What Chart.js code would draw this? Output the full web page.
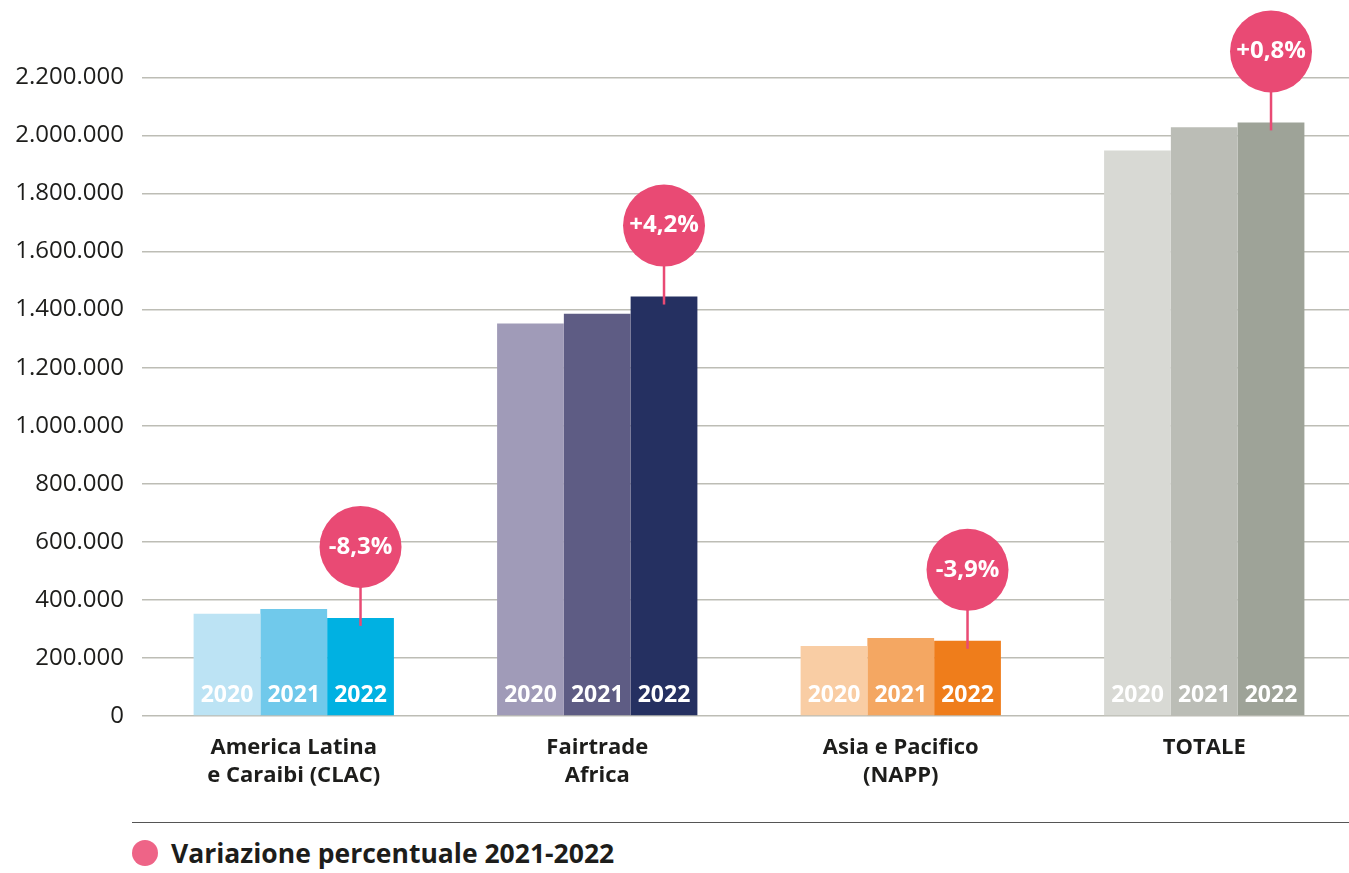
<!DOCTYPE html>
<html>
<head>
<meta charset="utf-8">
<script src="https://cdn.jsdelivr.net/npm/chart.js@4"></script>
<style>
  html, body { margin: 0; padding: 0; background: #fff; overflow: hidden; }
  #wrap { position: relative; width: 1349px; height: 873px; }
  #legendLine { position: absolute; left: 132px; top: 822px; width: 1230px; height: 0; border-top: 1.5px solid #555; }
  #legend { position: absolute; left: 132px; top: 838px; height: 30px; display: flex; align-items: center;
            font-family: "Open Sans", sans-serif; font-weight: 700; font-size: 26.5px; color: #1d1d1b; }
  #legend .dot { width: 26px; height: 26px; border-radius: 50%; background: #ee6487; margin-right: 13px; }
</style>
</head>
<body>
<div id="wrap">
  <canvas id="chart" width="1356" height="807"></canvas>
  <div id="legendLine"></div>
  <div id="legend"><span class="dot"></span>Variazione percentuale 2021-2022</div>
</div>
<script>
/* data */
const categories = [['America Latina', 'e Caraibi (CLAC)'], ['Fairtrade', 'Africa'], ['Asia e Pacifico', '(NAPP)'], ['TOTALE']];
const years = ['2020', '2021', '2022'];
const values2020 = [352000, 1352000, 241000, 1948000];
const values2021 = [369000, 1386000, 269000, 2028000];
const values2022 = [338000, 1445000, 259000, 2045000];
const changes = ['-8,3%', '+4,2%', '-3,9%', '+0,8%'];
const yTicks = [0, 200000, 400000, 600000, 800000, 1000000, 1200000, 1400000, 1600000, 1800000, 2000000, 2200000];

/* colours: one per region, light -> dark by year */
const colors2020 = ['#bce3f4', '#a09bb8', '#f9cda4', '#d8d9d4'];
const colors2021 = ['#70c9eb', '#5e5c84', '#f4a762', '#bbbdb6'];
const colors2022 = ['#00b1e2', '#253061', '#ef7d1b', '#9ea398'];
const pink = '#e94a74';

function fmt(v) {
  return v.toString().replace(/\B(?=(\d{3})+(?!\d))/g, '.');
}

/* year labels inside bars + change bubbles */
const overlay = {
  id: 'overlay',
  afterDatasetsDraw(chart) {
    const ctx = chart.ctx;
    ctx.save();
    ctx.textAlign = 'center';
    ctx.textBaseline = 'middle';
    ctx.fillStyle = '#fff';
    ctx.font = '700 23px "Open Sans", sans-serif';
    chart.data.datasets.forEach((ds, i) => {
      chart.getDatasetMeta(i).data.forEach(bar => {
        ctx.fillText(ds.label, bar.x, chart.chartArea.bottom - 21);
      });
    });

    const meta = chart.getDatasetMeta(2);
    meta.data.forEach((bar, j) => {
      const cy = bar.y - 71;
      ctx.strokeStyle = pink;
      ctx.lineWidth = 2.5;
      ctx.beginPath();
      ctx.moveTo(bar.x, cy);
      ctx.lineTo(bar.x, bar.y + 8);
      ctx.stroke();
      ctx.fillStyle = pink;
      ctx.beginPath();
      ctx.arc(bar.x, cy, 41, 0, Math.PI * 2);
      ctx.fill();
      ctx.fillStyle = '#fff';
      ctx.font = '700 24px "Open Sans", sans-serif';
      ctx.fillText(changes[j], bar.x, cy);
    });
    ctx.restore();
  }
};

new Chart(document.getElementById('chart'), {
  type: 'bar',
  data: {
    labels: categories,
    datasets: [
      { label: years[0], data: values2020, backgroundColor: colors2020 },
      { label: years[1], data: values2021, backgroundColor: colors2021 },
      { label: years[2], data: values2022, backgroundColor: colors2022 }
    ]
  },
  options: {
    responsive: false,
    animation: false,
    categoryPercentage: 0.66,
    barPercentage: 1,
    layout: { padding: { top: 0, bottom: 8 } },
    plugins: { legend: { display: false }, tooltip: { enabled: false } },
    scales: {
      x: {
        grid: { display: false },
        border: { display: false },
        ticks: {
          color: '#1d1d1b',
          padding: 10,
          font: { family: '"Open Sans", sans-serif', size: 22, weight: '700', lineHeight: 1.25 }
        }
      },
      y: {
        min: 0,
        max: 2355000,
        afterBuildTicks(scale) {
          scale.ticks = yTicks.map(v => ({ value: v }));
        },
        afterFit(scale) { scale.width = 142; },
        border: { display: false },
        grid: { color: '#bdbdb5', lineWidth: 1.5, drawTicks: false },
        ticks: {
          color: '#1d1d1b',
          padding: 18,
          font: { family: '"Open Sans", sans-serif', size: 24 },
          callback: v => fmt(v)
        }
      }
    }
  },
  plugins: [overlay]
});
</script>
</body>
</html>
